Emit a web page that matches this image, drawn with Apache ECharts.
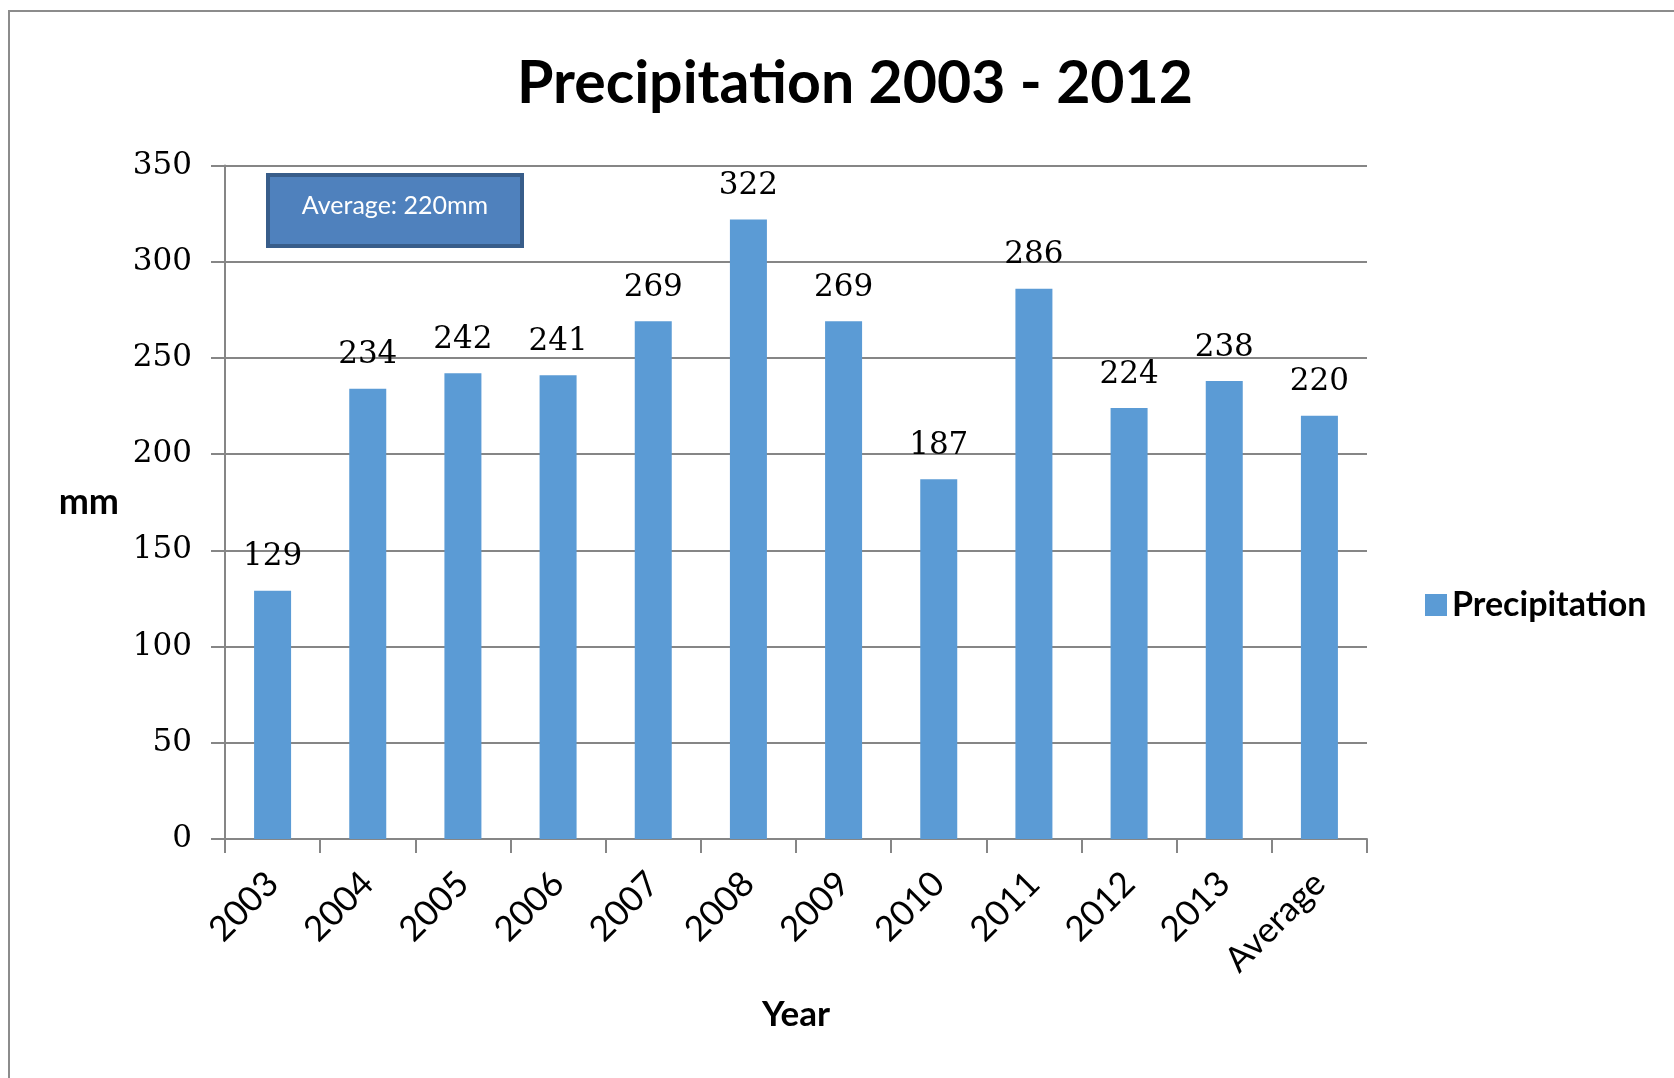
<!DOCTYPE html>
<html>
<head>
<meta charset="utf-8">
<title>Precipitation 2003 - 2012</title>
<script src="https://cdn.jsdelivr.net/npm/echarts@6/dist/echarts.min.js"></script>
<style>
  html, body { margin: 0; padding: 0; background: #fff; overflow: hidden; }
  #chart { width: 1674px; height: 1078px; }
</style>
</head>
<body>
<div id="chart"></div>
<script>
// Yearly precipitation totals (mm), with the period average as the last column
const categories = ['2003', '2004', '2005', '2006', '2007', '2008', '2009', '2010', '2011', '2012', '2013', 'Average'];
const precipitation = [129, 234, 242, 241, 269, 322, 269, 187, 286, 224, 238, 220];
const yTicks = { min: 0, max: 350, interval: 50 };

const averageValue = precipitation[precipitation.length - 1];

const sans = 'Lato, "Open Sans", sans-serif';
const serif = '"DejaVu Serif", serif';
const axisGrey = '#868686';

const chart = echarts.init(document.getElementById('chart'), null, { renderer: 'canvas' });

chart.setOption({
  backgroundColor: '#ffffff',
  animation: false,
  title: {
    text: 'Precipitation 2003 - 2012',
    left: 850,
    top: 49,
    textAlign: 'center',
    textStyle: { fontFamily: sans, fontWeight: 'bold', fontSize: 59, color: '#000' }
  },
  legend: {
    left: 1420,
    top: 583,
    itemWidth: 22,
    itemHeight: 22,
    icon: 'rect',
    textStyle: { fontFamily: sans, fontWeight: 'bold', fontSize: 34, color: '#000' },
    data: ['Precipitation']
  },
  grid: { left: 225, right: 307, top: 165.5, bottom: 239 },
  xAxis: {
    type: 'category',
    data: categories,
    name: 'Year',
    nameLocation: 'middle',
    nameGap: 158,
    nameTextStyle: { fontFamily: sans, fontWeight: 'bold', fontSize: 35, color: '#000' },
    axisLine: { lineStyle: { color: axisGrey, width: 2 } },
    axisTick: { show: true, alignWithLabel: false, length: 14, lineStyle: { color: axisGrey, width: 2 } },
    axisLabel: { rotate: 45, margin: 39, fontFamily: sans, fontSize: 35, color: '#000', interval: 0 }
  },
  yAxis: {
    type: 'value',
    min: yTicks.min,
    max: yTicks.max,
    interval: yTicks.interval,
    name: 'mm',
    nameLocation: 'middle',
    nameRotate: 0,
    nameGap: 106,
    nameTextStyle: { fontFamily: sans, fontWeight: 'bold', fontSize: 36, color: '#000' },
    axisLine: { show: true, lineStyle: { color: axisGrey, width: 2 } },
    axisTick: { show: true, length: 14, lineStyle: { color: axisGrey, width: 2 } },
    splitLine: { show: true, lineStyle: { color: axisGrey, width: 2 } },
    axisLabel: { margin: 33, fontFamily: serif, fontSize: 31, color: '#000' }
  },
  series: [{
    name: 'Precipitation',
    type: 'bar',
    data: precipitation,
    barWidth: 37,
    itemStyle: { color: '#5b9bd5' },
    label: {
      show: true,
      position: 'top',
      distance: 18,
      fontFamily: serif,
      fontSize: 31,
      color: '#000'
    }
  }],
  graphic: [
    {
      // outer frame: only the top and left edges are visible
      type: 'polyline',
      silent: true,
      shape: { points: [[9, 1078], [9, 11], [1674, 11]] },
      style: { fill: null, stroke: '#8c8c8c', lineWidth: 2 }
    },
    {
      type: 'group',
      left: 266,
      top: 173,
      children: [
        {
          type: 'rect',
          shape: { x: 0, y: 0, width: 254, height: 71 },
          style: { fill: '#4f81bd', stroke: '#385d8a', lineWidth: 4 }
        },
        {
          type: 'text',
          x: 127,
          y: 31,
          style: {
            text: 'Average: ' + averageValue + 'mm',
            fill: '#ffffff',
            fontFamily: sans,
            fontSize: 25,
            align: 'center',
            verticalAlign: 'middle'
          }
        }
      ]
    }
  ]
});
</script>
</body>
</html>
